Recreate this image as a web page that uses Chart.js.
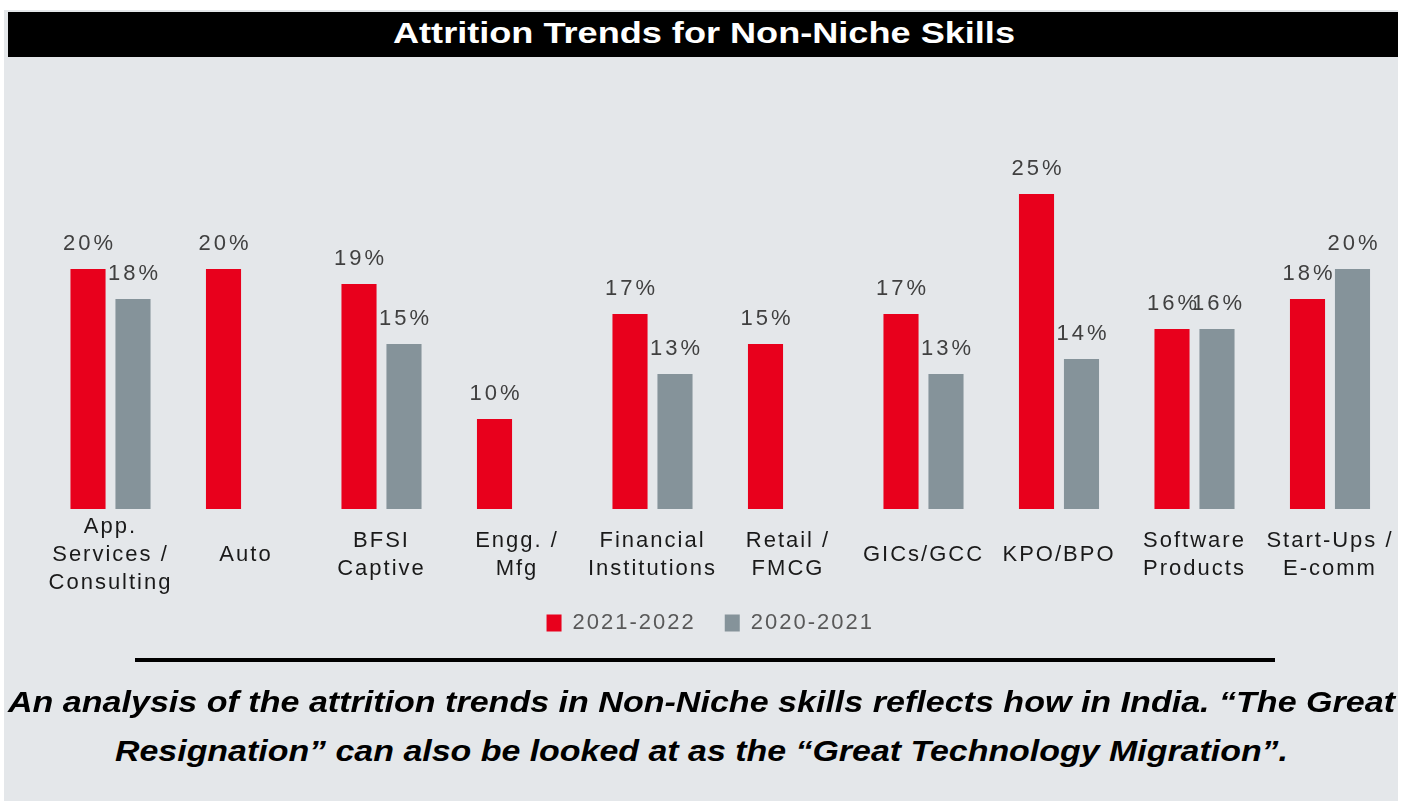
<!DOCTYPE html>
<html>
<head>
<meta charset="utf-8">
<script src="https://cdn.jsdelivr.net/npm/chart.js@4.4.1/dist/chart.umd.min.js"></script>
<style>
  html, body { margin: 0; padding: 0; background: #fff; }
  body { width: 1403px; height: 801px; position: relative; overflow: hidden; }
  #panel { position: absolute; left: 4px; top: 10px; width: 1394px; height: 791px; background: #e4e7ea; }
  #titlebar { position: absolute; left: 8px; top: 12px; width: 1390px; height: 45px; background: #000; }
  .fit { position: absolute; white-space: nowrap; transform-origin: 0 0; line-height: 30px; }
  #title { top: 15.6px; color: #fff; font: bold 30px "Liberation Sans", Arial, sans-serif; }
  .cap { color: #000; font: italic bold 30px "Liberation Sans", Arial, sans-serif; }
  #cap1 { top: 684.6px; }
  #cap2 { top: 733.6px; }
  #rule { position: absolute; left: 135px; top: 658px; width: 1140px; height: 4px; background: #000; }
  #chart-box { position: absolute; left: 0; top: 57px; width: 1403px; height: 639px; }
</style>
</head>
<body>
<div id="panel"></div>
<div id="titlebar"></div>
<span id="title" class="fit">Attrition Trends for Non-Niche Skills</span>
<div id="chart-box"><canvas id="attrition-chart"></canvas></div>
<div id="rule"></div>
<span id="cap1" class="fit cap">An analysis of the attrition trends in Non-Niche skills reflects how in India. “The Great</span>
<span id="cap2" class="fit cap">Resignation” can also be looked at as the “Great Technology Migration”.</span>
<script>
const categories = [
    ['App.', 'Services /', 'Consulting'],
    'Auto',
    ['BFSI', 'Captive'],
    ['Engg. /', 'Mfg'],
    ['Financial', 'Institutions'],
    ['Retail /', 'FMCG'],
    'GICs/GCC',
    'KPO/BPO',
    ['Software', 'Products'],
    ['Start-Ups /', 'E-comm']
];
const seriesNames = ['2021-2022', '2020-2021'];
const values2122 = [20, 20, 19, 10, 17, 15, 17, 25, 16, 18];
const values2021 = [18, null, 15, null, 13, null, 13, 14, 16, 20];

const RED = '#e8001c';
const GREY = '#85939a';
const FONT = '"Liberation Sans", Arial, sans-serif';

// stretch the html texts to the width they have in the picture
function fitText(id, left, width) {
    const el = document.getElementById(id);
    const w = el.getBoundingClientRect().width;
    el.style.left = left + 'px';
    el.style.transform = 'scaleX(' + (width / w) + ')';
}
fitText('title', 393, 622);
fitText('cap1', 8, 1387);
fitText('cap2', 115, 1173);

// canvas letter spacing is lost when the canvas gets resized, so set it again
const spacing = {
    id: 'spacing',
    beforeLayout(chart) { chart.ctx.letterSpacing = '2px'; },
    beforeDraw(chart) { chart.ctx.letterSpacing = '2px'; },
    afterLayout(chart) {
        // legend sits tucked under the labels and a little left of centre
        const lg = chart.legend;
        const up = lg.top - (chart.scales.x.top + 74);
        lg.top -= up;
        lg.bottom -= up;
        lg.left -= 10;
        lg.right -= 10;
    }
};

// value labels above the bars
const barLabels = {
    id: 'barLabels',
    afterDatasetsDraw(chart) {
        const ctx = chart.ctx;
        ctx.save();
        ctx.font = '22px ' + FONT;
        ctx.letterSpacing = '3px';
        ctx.fillStyle = '#404040';
        ctx.textAlign = 'center';
        ctx.textBaseline = 'alphabetic';
        chart.data.datasets.forEach((ds, i) => {
            chart.getDatasetMeta(i).data.forEach((bar, j) => {
                const v = ds.data[j];
                if (v === null || v === undefined) return;
                ctx.fillText(v + '%', bar.x + 1.5, bar.y - 19);
            });
        });
        ctx.restore();
    }
};

Chart.defaults.font.family = FONT;

new Chart(document.getElementById('attrition-chart').getContext('2d'), {
    type: 'bar',
    data: {
        labels: categories,
        datasets: [{
            label: seriesNames[0],
            data: values2122,
            backgroundColor: RED,
            borderWidth: 0
        }, {
            label: seriesNames[1],
            data: values2021,
            backgroundColor: GREY,
            borderWidth: 0
        }]
    },
    options: {
        responsive: true,
        maintainAspectRatio: false,
        animation: false,
        barPercentage: 0.78,
        categoryPercentage: 0.664,
        layout: {
            padding: { top: 62, bottom: 6, left: 42.75, right: 5.25 }
        },
        plugins: {
            tooltip: { enabled: false },
            legend: {
                position: 'bottom',
                labels: {
                    boxWidth: 15,
                    boxHeight: 17,
                    padding: 29,
                    color: '#595959',
                    font: { size: 22 }
                }
            }
        },
        scales: {
            x: {
                grid: { display: false, drawTicks: false },
                border: { display: false },
                ticks: {
                    color: '#1a1a1a',
                    font: { size: 22, lineHeight: 28 / 22 },
                    padding: 18,
                    maxRotation: 0,
                    autoSkip: false,
                    crossAlign: 'center'
                },
                afterFit(scale) {
                    // the labels fit inside the layout padding already
                    scale.paddingLeft = 0;
                    scale.paddingRight = 0;
                }
            },
            y: {
                display: false,
                min: 4,
                max: 30
            }
        }
    },
    plugins: [spacing, barLabels]
});
</script>
</body>
</html>
